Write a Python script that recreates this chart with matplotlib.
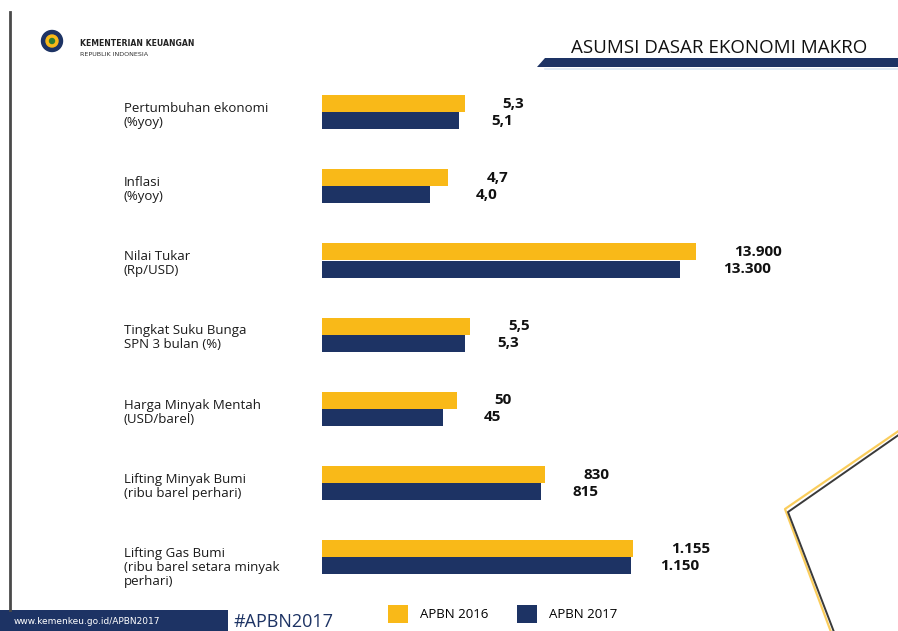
import matplotlib.pyplot as plt
from matplotlib.patches import Polygon, Rectangle, Circle
from matplotlib import transforms

# Asumsi dasar ekonomi makro, APBN 2016 vs APBN 2017
categories = [
    "Pertumbuhan ekonomi\n(%yoy)",
    "Inflasi\n(%yoy)",
    "Nilai Tukar\n(Rp/USD)",
    "Tingkat Suku Bunga\nSPN 3 bulan (%)",
    "Harga Minyak Mentah\n(USD/barel)",
    "Lifting Minyak Bumi\n(ribu barel perhari)",
    "Lifting Gas Bumi\n(ribu barel setara minyak\nperhari)",
]
apbn_2016 = [5.3, 4.7, 13900, 5.5, 50, 830, 1155]
apbn_2017 = [5.1, 4.0, 13300, 5.3, 45, 815, 1150]
# the infographic draws each bar on its own unit: value / divisor
divisors = [1, 1, 1000, 1, 10, 100, 100]
decimals = [1, 1, 0, 1, 0, 0, 0]
series_labels = ["APBN 2016", "APBN 2017"]

YELLOW = "#F9B918"
NAVY = "#1D3364"
W, H = 898, 631


def fmt_id(v, d):
    # Indonesian style: comma decimal, dot thousands
    s = f"{v:,.{d}f}"
    return s.replace(",", "#").replace(".", ",").replace("#", ".")


fig = plt.figure(figsize=(W / 100, H / 100), dpi=100)
fig.patch.set_facecolor("white")

# background layer in pixel coordinates for the decorations
bg = fig.add_axes([0, 0, 1, 1], zorder=0)
bg.set_xlim(0, W)
bg.set_ylim(H, 0)
bg.axis("off")

# left border line
bg.plot([10, 10], [12, 610], color="#4a4a4a", lw=2)

# logo
bg.add_patch(Circle((52, 41), 10.5, color=NAVY))
bg.add_patch(Circle((52, 41), 6, color=YELLOW))
bg.add_patch(Circle((52, 41), 2.5, color="#2e7d32"))
bg.text(80, 44, "KEMENTERIAN KEUANGAN", fontsize=5.6, fontweight="bold",
        color="#222222", va="center", family="DejaVu Sans")
bg.text(80, 54, "REPUBLIK INDONESIA", fontsize=4.6, color="#333333",
        va="center", family="DejaVu Sans")

# header title with navy band
bg.text(867, 48, "ASUMSI DASAR EKONOMI MAKRO", fontsize=13.5, color="#111111",
        ha="right", va="center", family="Open Sans", fontweight="medium")
bg.add_patch(Polygon([(537, 67), (545, 58), (W, 58), (W, 67)], closed=True,
                     color=NAVY, lw=0))
bg.plot([545, W], [69, 69], color="#dce8f4", lw=1.2)

# right decorative frame
bg.plot([W + 2, 785, 831], [430, 509, 632], color=YELLOW, lw=1.6, alpha=0.7)
bg.plot([W + 2, 788, 834], [434, 512, 632], color="#3a3a3a", lw=1.4)

# footer
bg.add_patch(Rectangle((0, 610), 228, 22, color=NAVY, lw=0))
bg.text(14, 621, "www.kemenkeu.go.id/APBN2017", fontsize=6.5, color="white",
        va="center", family="DejaVu Sans")
bg.text(234, 622, "#APBN2017", fontsize=13, color=NAVY, va="center",
        family="Open Sans")

# bar chart area: x from 322 px, 26.9 px per unit; rows 74.2 px apart
ax_left, ax_right = 322, 860
row_top, row_bot = 75, 75 + 7 * 74.2
ax = fig.add_axes([ax_left / W, 1 - row_bot / H, (ax_right - ax_left) / W,
                   (row_bot - row_top) / H], zorder=1)
ax.patch.set_alpha(0)
ax.set_xlim(0, (ax_right - ax_left) / 26.9)
ax.set_ylim(len(categories) - 0.5, -0.5)
ax.axis("off")

pos = list(range(len(categories)))
bh = 0.23
len16 = [v / d for v, d in zip(apbn_2016, divisors)]
len17 = [v / d for v, d in zip(apbn_2017, divisors)]
b16 = ax.barh([p - bh / 2 for p in pos], len16, height=bh, color=YELLOW,
              label=series_labels[0])
b17 = ax.barh([p + bh / 2 for p in pos], len17, height=bh, color=NAVY,
              label=series_labels[1])

for p, l16, v16, v17, d in zip(pos, len16, apbn_2016, apbn_2017, decimals):
    ax.annotate(fmt_id(v16, d), (l16, p - bh / 2), xytext=(27.5, 0),
                textcoords="offset points", ha="left", va="center",
                fontsize=11, fontweight="bold", color="#111111",
                family="Open Sans")
    ax.annotate(fmt_id(v17, d), (l16, p + bh / 2), xytext=(19.5, 0),
                textcoords="offset points", ha="left", va="center",
                fontsize=11, fontweight="bold", color="#111111",
                family="Open Sans")

# category labels on the left
lab_tr = transforms.blended_transform_factory(fig.transFigure, ax.transData)
for p, name in zip(pos, categories):
    ax.text(124 / W, p - 0.14, name, transform=lab_tr, ha="left", va="top",
            fontsize=9.5, color="#1a1a1a", linespacing=1.1, family="Open Sans")

fig.legend(handles=[b16, b17], loc="center left",
           bbox_to_anchor=(388 / W, 1 - 614 / H), ncol=2, frameon=False,
           handlelength=1.5, handleheight=1.7, handletextpad=0.9,
           columnspacing=2.2, borderpad=0, borderaxespad=0,
           prop={"family": "Open Sans", "size": 9.5})

fig.savefig("out.png", dpi=100, facecolor="white")
